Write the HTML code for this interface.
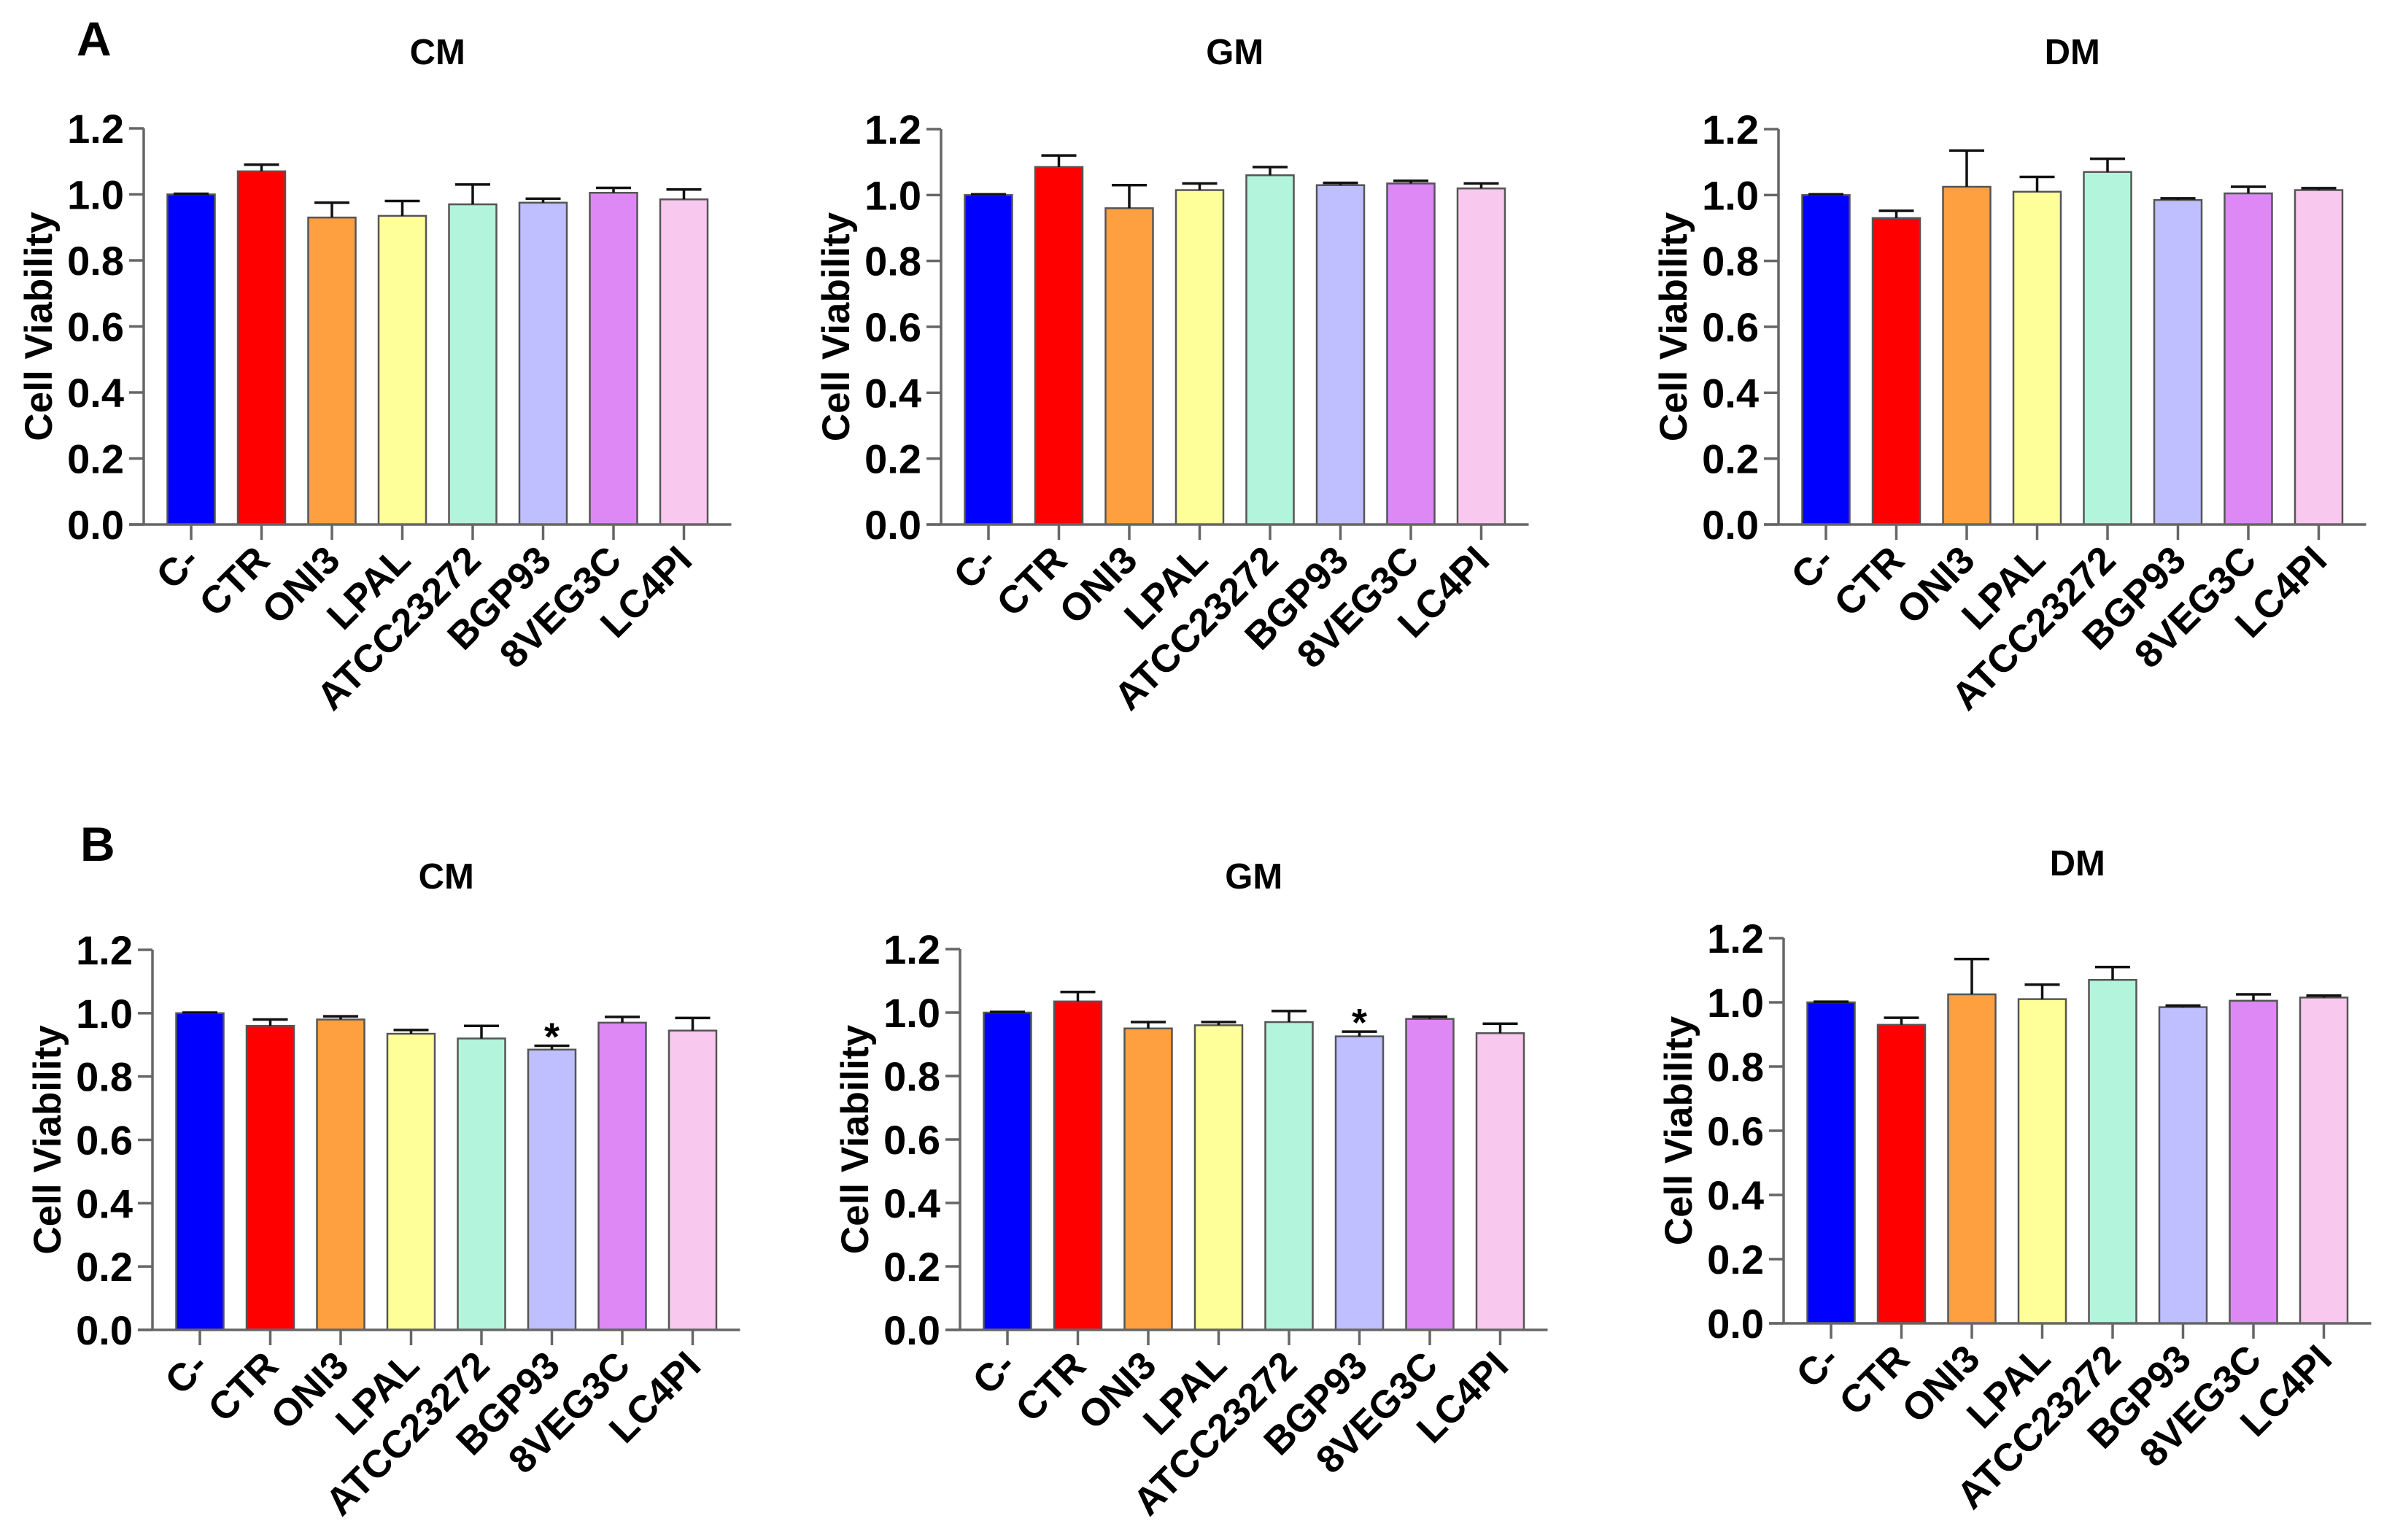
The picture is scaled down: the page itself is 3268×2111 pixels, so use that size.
<!DOCTYPE html>
<html><head><meta charset="utf-8">
<style>
html,body{margin:0;padding:0;background:#fff;}
svg{display:block;font-family:"Liberation Sans",Arial,sans-serif;}
</style></head>
<body>
<svg id="fig" width="3268" height="2111" viewBox="0 0 3268 2111" xmlns="http://www.w3.org/2000/svg">
<text x="105" y="76" font-size="66" font-weight="bold">A</text>
<text x="110" y="1180" font-size="66" font-weight="bold">B</text>
</svg>
<script>
const categories = ["C-","CTR","ONI3","LPAL","ATCC23272","BGP93","8VEG3C","LC4PI"];
const colors = ["#0000ff","#ff0000","#ffa040","#ffff99","#b3f5dc","#bfbfff","#dd88f5","#f9c8ee"];
const yTicks = [0.0,0.2,0.4,0.6,0.8,1.0,1.2];
const yTickLabels = ["0.0","0.2","0.4","0.6","0.8","1.0","1.2"];

const aCmValues = [1.0,1.07,0.93,0.935,0.97,0.975,1.005,0.985];
const aCmErrors = [0.002,0.02,0.045,0.045,0.06,0.012,0.015,0.03];
const aGmValues = [1.0,1.085,0.96,1.015,1.06,1.03,1.035,1.02];
const aGmErrors = [0.002,0.035,0.07,0.02,0.025,0.007,0.008,0.015];
const aDmValues = [1.0,0.93,1.025,1.01,1.07,0.985,1.005,1.015];
const aDmErrors = [0.002,0.022,0.11,0.045,0.04,0.005,0.02,0.006];
const bCmValues = [1.0,0.96,0.98,0.935,0.92,0.885,0.97,0.945];
const bCmErrors = [0.002,0.02,0.01,0.012,0.04,0.012,0.018,0.04];
const bGmValues = [1.0,1.035,0.95,0.96,0.97,0.925,0.98,0.935];
const bGmErrors = [0.002,0.03,0.02,0.01,0.035,0.015,0.007,0.03];
const bDmValues = [1.0,0.93,1.025,1.01,1.07,0.985,1.005,1.015];
const bDmErrors = [0.002,0.022,0.11,0.045,0.04,0.005,0.02,0.006];
const bCmStars = [false,false,false,false,false,true,false,false];
const bGmStars = [false,false,false,false,false,true,false,false];
const noStars = [false,false,false,false,false,false,false,false];

const NS = "http://www.w3.org/2000/svg";
const svg = document.getElementById("fig");
function mk(tag, attrs, parent){
  const e = document.createElementNS(NS, tag);
  for (const k in attrs) e.setAttribute(k, attrs[k]);
  (parent||svg).appendChild(e);
  return e;
}

function panel(id, title, ax, top, bottom, titleY, values, errors, stars){
  const g = mk("g", {});
  
  
  const yMax = 1.2;
  const y = v => bottom - (v / yMax) * (bottom - top);
  const step = 96.5, off = 65, bw = 65;
  const x = i => ax + off + i * step;
  const axisEnd = ax + 2*off + (categories.length-1)*step;

  const t = mk("text", {x: (ax + axisEnd)/2, y: titleY, "font-size": 49, "font-weight": "bold", "text-anchor": "middle"}, g);
  t.textContent = title;
  
  

  values.forEach((v, i) => {
    const r = mk("rect", {x: x(i) - bw/2, y: y(v), width: bw, height: bottom - y(v), fill: colors[i], stroke: "#555", "stroke-width": 2.5}, g);
    
    
    const e = errors[i];
    const eb = mk("path", {d: `M${x(i)} ${y(v)} V${y(v+e)} M${x(i)-24} ${y(v+e)} H${x(i)+24}`, stroke: "#111", "stroke-width": 3.5, fill: "none"}, g);
    
    
    if (stars[i]) {
      const s = mk("text", {x: x(i), y: y(v+e) + 6, "font-size": 54, "font-weight": "bold", "text-anchor": "middle"}, g);
      s.textContent = "*";
      
      
    }
  });

  const yaxis = mk("line", {x1: ax, y1: top, x2: ax, y2: bottom, stroke: "#666", "stroke-width": 3.5}, g);
  
  
  const xaxis = mk("line", {x1: ax - 20, y1: bottom, x2: axisEnd, y2: bottom, stroke: "#666", "stroke-width": 3.5}, g);
  
  

  yTicks.forEach((tv, k) => {
    mk("line", {x1: ax - 20, y1: y(tv), x2: ax, y2: y(tv), stroke: "#666", "stroke-width": 3.5}, g);
    const lt = mk("text", {x: ax - 27, y: y(tv) + 20, "font-size": 56, "font-weight": "bold", "text-anchor": "end"}, g);
    lt.textContent = yTickLabels[k];
    
    
  });

  categories.forEach((c, i) => {
    mk("line", {x1: x(i), y1: bottom, x2: x(i), y2: bottom + 21, stroke: "#666", "stroke-width": 3.5}, g);
    const ax2 = x(i) + 14, ay = bottom + 52;
    const ct = mk("text", {x: ax2, y: ay, "font-size": 53, "font-weight": "bold", "text-anchor": "end", transform: `rotate(-45 ${ax2} ${ay})`}, g);
    ct.textContent = c;
    
    
  });

  const cy = (top + bottom) / 2;
  const yl = mk("text", {x: ax - 145, y: cy, "font-size": 53, "font-weight": "bold", "text-anchor": "middle", transform: `rotate(-90 ${ax-145} ${cy})`, dy: 19}, g);
  yl.textContent = "Cell Viability";
  
  
}

panel("a-cm", "CM", 197, 176, 719, 88, aCmValues, aCmErrors, noStars);
panel("a-gm", "GM", 1290, 177, 719, 88, aGmValues, aGmErrors, noStars);
panel("a-dm", "DM", 2438, 177, 719, 88, aDmValues, aDmErrors, noStars);
panel("b-cm", "CM", 209, 1302, 1823, 1218, bCmValues, bCmErrors, bCmStars);
panel("b-gm", "GM", 1316, 1301, 1823, 1218, bGmValues, bGmErrors, bGmStars);
panel("b-dm", "DM", 2445, 1286, 1814, 1200, bDmValues, bDmErrors, noStars);
</script>
</body></html>
